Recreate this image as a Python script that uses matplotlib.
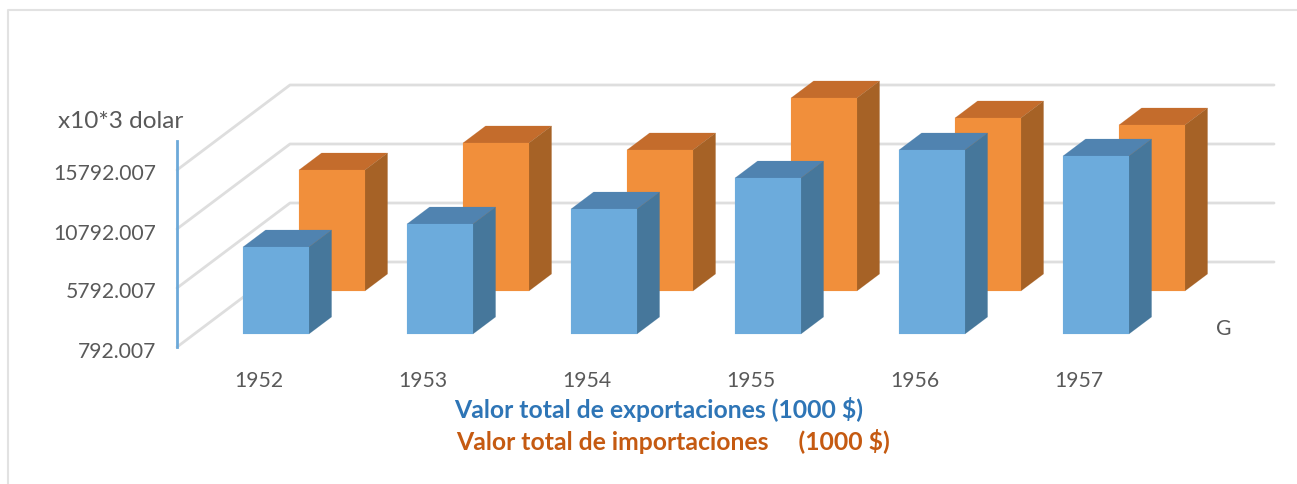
import matplotlib
matplotlib.use("Agg")
from matplotlib import pyplot as plt
from matplotlib.lines import Line2D
from matplotlib.patches import Polygon
from matplotlib.transforms import ScaledTranslation

plt.rcParams["font.family"] = ["Lato", "DejaVu Sans"]

years = ["1952", "1953", "1954", "1955", "1956", "1957"]
exports = [8165, 10114, 11385, 14012, 16386, 15877]
imports = [11046, 13335, 12742, 17148, 15453, 14860]
y_ticks = [792.007, 5792.007, 10792.007, 15792.007]
y_tick_labels = ["792.007", "5792.007", "10792.007", "15792.007"]
axis_top = 18250

W, H = 1297, 484
BAR_WIDTH = 66 / 164
# 앞면에서 뒷벽까지의 깊이 (x는 카테고리 단위, y는 값 단위)
DEPTH_X = 113 / 164
DEPTH_Y = 85 / 59 * 5000
TEXT_GRAY = "#595959"
GRID = "#DEDEDE"


def project(x, y, depth):
    return x + depth * DEPTH_X, y + depth * DEPTH_Y


def draw_bar(ax, x, value, d0, d1, front, top, side, zorder):
    left, right = x - BAR_WIDTH / 2, x + BAR_WIDTH / 2
    base = y_ticks[0]
    faces = [
        ([(left, value, d0), (right, value, d0), (right, value, d1), (left, value, d1)], top),
        ([(right, base, d0), (right, base, d1), (right, value, d1), (right, value, d0)], side),
        ([(left, base, d0), (right, base, d0), (right, value, d0), (left, value, d0)], front),
    ]
    for corners, color in faces:
        pts = [project(*c) for c in corners]
        ax.add_patch(Polygon(pts, closed=True, facecolor=color, edgecolor=color, lw=0.1,
                             clip_on=False, zorder=zorder))


def px_text(fig, x, y, s, **kw):
    fig.text(x / W, 1 - y / H, s, **kw)


fig = plt.figure(figsize=(W / 100, H / 100), dpi=100)
ax = fig.add_axes([177 / W, 1 - 347 / H, 984 / W, 177 / H])
ax.set_xlim(-0.5, 5.5)
ax.set_ylim(y_ticks[0], y_ticks[-1])
ax.patch.set_visible(False)
for spine in ax.spines.values():
    spine.set_visible(False)

ax.set_xticks(range(len(years)), years)
ax.set_yticks(y_ticks, y_tick_labels)
ax.tick_params(axis="x", length=0, pad=17, labelsize=15.2, labelcolor=TEXT_GRAY)
ax.tick_params(axis="y", length=0, pad=15, labelsize=15.2, labelcolor=TEXT_GRAY)

# y 라벨은 눈금보다 살짝 아래에 있다
shift = ScaledTranslation(0, -2.5 / 100, fig.dpi_scale_trans)
for label in ax.get_yticklabels():
    label.set_transform(label.get_transform() + shift)

# 왼쪽 벽과 뒷벽의 눈금선
for tick in y_ticks:
    xs, ys = zip(project(-0.5, tick, 0), project(-0.5, tick, 1), project(5.5, tick, 1))
    ax.plot(xs, ys, color=GRID, lw=2, clip_on=False, zorder=1, solid_capstyle="round")

ax.plot([-0.5, -0.5], [y_ticks[0], axis_top], color="#6CA9D9", lw=2, clip_on=False, zorder=2)

for i in range(len(years)):
    draw_bar(ax, i - 1.5 / 164, imports[i], 0.659, 0.859, "#F18F3B", "#C46C2C", "#A66226", 3 + 2 * i)
    draw_bar(ax, i - 0.3 / 164, exports[i], 0.153, 0.353, "#6CABDC", "#5083B0", "#46779B", 4 + 2 * i)

px_text(fig, 58, 121, "x10*3 dolar", fontsize=17.6, color=TEXT_GRAY, va="center")
px_text(fig, 1224, 329, "G", fontsize=15.2, color=TEXT_GRAY, ha="center", va="center")
px_text(fig, 454, 410, "Valor total de exportaciones (1000 $)", fontsize=17.8, fontweight="bold",
        color="#2E75B6", va="center")
px_text(fig, 456, 442, "Valor total de importaciones     (1000 $)", fontsize=17.8, fontweight="bold",
        color="#C55A11", va="center")

# 바깥 테두리 (위, 왼쪽만 보임)
fig.add_artist(Line2D([8 / W, 8 / W, 1], [0, 1 - 10 / H, 1 - 10 / H], color="#E2E2E2", lw=1.5,
                      transform=fig.transFigure))

plt.savefig("out.png", dpi=100)
